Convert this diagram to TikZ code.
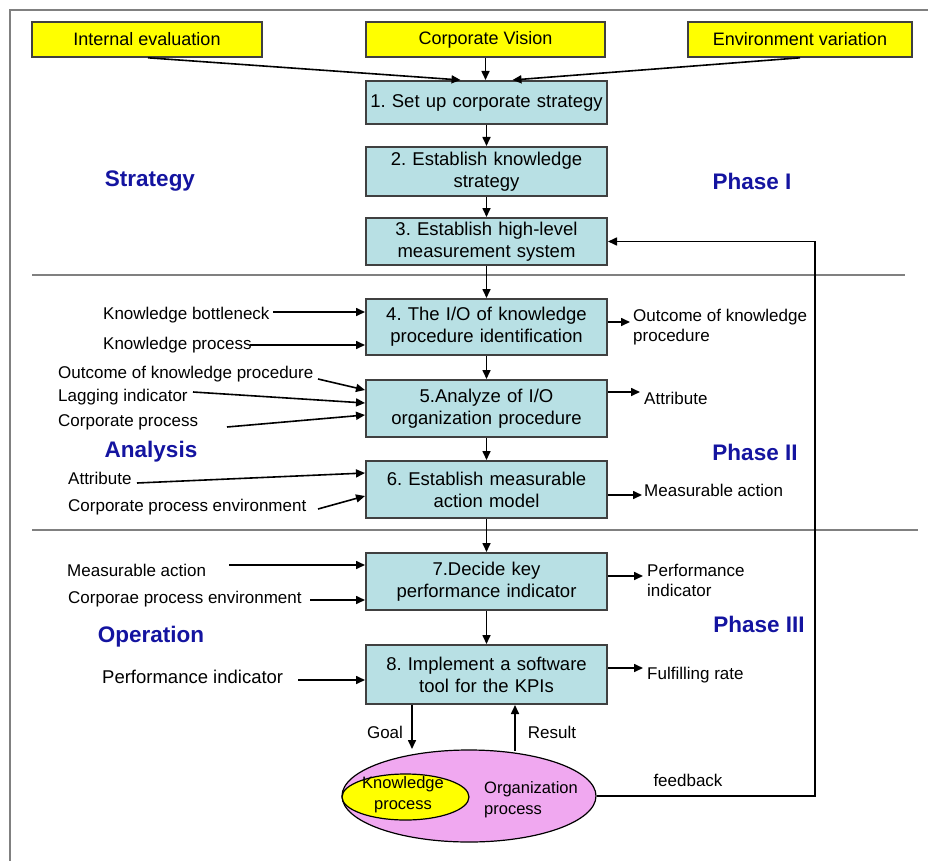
\documentclass[tikz,border=0pt]{standalone}
\usepackage{fontspec}
\setmainfont{Liberation Sans}
\usetikzlibrary{arrows.meta,shapes.geometric}
\definecolor{boxfill}{RGB}{184,224,228}
\definecolor{boxline}{RGB}{64,64,64}
\definecolor{ylw}{RGB}{255,255,0}
\definecolor{pinkfill}{RGB}{240,168,240}
\definecolor{phaseblue}{RGB}{20,20,160}
\definecolor{framegray}{RGB}{128,128,128}
\frenchspacing
\begin{document}
\begin{tikzpicture}[x=1pt,y=-1pt,
  ybox/.style={draw=boxline,line width=1.6pt,fill=ylw,minimum height=35pt,inner sep=0pt,font=\fontsize{18}{21}\selectfont},
  stepbox/.style={draw=boxline,line width=2pt,fill=boxfill,minimum width=241pt,text width=236pt,align=center,inner sep=0pt,font=\fontsize{18.5}{22}\selectfont},
  lbl/.style={inner sep=0pt,font=\fontsize{17}{20}\selectfont},
  phase/.style={inner sep=0pt,text=phaseblue,font=\fontsize{22.5}{26}\selectfont\bfseries},
  arr/.style={line width=1.6pt,-{Triangle[length=9pt,width=8pt]}},
  sep/.style={draw=framegray,line width=1.6pt}
]
\useasboundingbox (0,0) rectangle (928,861);
% frame
\draw[sep] (10,861) -- (10,10) -- (928,10);
\draw[sep] (32,275) -- (905,275);
\draw[sep] (32,530) -- (918,530);
% top inputs
\node[ybox,minimum width=230pt] (ie) at (147,39.5) {Internal evaluation};
\node[ybox,minimum width=239pt] (cv) at (485.5,39.5) {Corporate Vision};
\node[ybox,minimum width=224pt] (ev) at (800,39.5) {Environment variation};
% steps
\node[stepbox,minimum height=43pt] (b1) at (486.5,102.5) {1. Set up corporate strategy};
\node[stepbox,minimum height=49pt] (b2) at (486.5,171.5) {2. Establish knowledge\\strategy};
\node[stepbox,minimum height=47pt] (b3) at (486.5,241.5) {3. Establish high-level\\measurement system};
\node[stepbox,minimum height=56pt] (b4) at (486.5,327) {4. The I/O of knowledge\\procedure identification};
\node[stepbox,minimum height=57pt] (b5) at (486.5,408.5) {5.Analyze of I/O\\organization procedure};
\node[stepbox,minimum height=57pt] (b6) at (486.5,489.5) {6. Establish measurable\\action model};
\node[stepbox,minimum height=57pt] (b7) at (486.5,581.5) {7.Decide key\\performance indicator};
\node[stepbox,minimum height=59pt] (b8) at (486.5,674.5) {8. Implement a software\\tool for the KPIs};
% top arrows
\draw[arr] ([xshift=1pt]ie.south) -- ([xshift=-26pt]b1.north);
\draw[arr] (cv.south) -- (cv.south |- b1.north);
\draw[arr] (ev.south) -- ([xshift=26pt]b1.north);
% vertical chain
\draw[arr] (b1) -- (b2);
\draw[arr] (b2) -- (b3);
\draw[arr] (b3) -- (b4);
\draw[arr] (b4) -- (b5);
\draw[arr] (b5) -- (b6);
\draw[arr] (b6) -- (b7);
\draw[arr] (b7) -- (b8);
% phase labels
\node[phase] (st) at (150,181) {Strategy};
\node[phase] (p1) at (752,181) {Phase I};
\node[phase] (an) at (151,452) {Analysis};
\node[phase] (p2) at (755,452) {Phase II};
\node[phase] (op) at (151,637) {Operation};
\node[phase] (p3) at (759,624) {Phase III};
% left inputs
\node[lbl,anchor=west] (kb) at (103,315) {Knowledge bottleneck};
\node[lbl,anchor=west] (kp) at (103,345) {Knowledge process};
\node[lbl,anchor=west] (okp) at (58,374) {Outcome of knowledge procedure};
\node[lbl,anchor=west] (lag) at (58,397) {Lagging indicator};
\node[lbl,anchor=west] (cp) at (58,422) {Corporate process};
\node[lbl,anchor=west] (att) at (68,478) {Attribute};
\node[lbl,anchor=west] (cpe) at (68,507) {Corporate process environment};
\node[lbl,anchor=west] (ma) at (67,570) {Measurable action};
\node[lbl,anchor=west] (cpe2) at (68,599) {Corporae process environment};
\node[lbl,anchor=west,font=\fontsize{18.5}{22}\selectfont] (pi) at (102,677) {Performance indicator};
\coordinate (kbs) at (273,312);
\coordinate (kps) at (250,345);
\coordinate (okps) at (318,379);
\coordinate (lags) at (193,392);
\coordinate (cps) at (227,427);
\coordinate (atts) at (137,483);
\coordinate (cpes) at (318,509);
\coordinate (mas) at (229,565);
\coordinate (cpe2s) at (310,600);
\coordinate (pis) at (298,680);
\draw[arr] (kbs) -- (kbs -| b4.west);
\draw[arr] (kps) -- (kps -| b4.west);
\draw[arr] (okps) -- ([yshift=18.5pt]b5.west);
\draw[arr] (lags) -- ([yshift=5.5pt]b5.west);
\draw[arr] (cps) -- ([yshift=-6.5pt]b5.west);
\draw[arr] (atts) -- ([yshift=16.5pt]b6.west);
\draw[arr] (cpes) -- ([yshift=-6.5pt]b6.west);
\draw[arr] (mas) -- (mas -| b7.west);
\draw[arr] (cpe2s) -- (cpe2s -| b7.west);
\draw[arr] (pis) -- (pis -| b8.west);
% right outputs
\node[lbl,anchor=west,align=left] (okpo) at (633,327) {Outcome of knowledge\\procedure};
\node[lbl,anchor=west] (atto) at (644,398) {Attribute};
\node[lbl,anchor=west] (mao) at (644,490) {Measurable action};
\node[lbl,anchor=west,align=left] (pio) at (647,580) {Performance\\indicator};
\node[lbl,anchor=west] (fr) at (647,675) {Fulfilling rate};
\coordinate (o4) at (630,322);
\coordinate (o5) at (640,392);
\coordinate (o6) at (642,495);
\coordinate (o7) at (643,576);
\coordinate (o8) at (643,668);
\draw[arr] (o4 -| b4.east) -- (o4);
\draw[arr] (o5 -| b5.east) -- (o5);
\draw[arr] (o6 -| b6.east) -- (o6);
\draw[arr] (o7 -| b7.east) -- (o7);
\draw[arr] (o8 -| b8.east) -- (o8);
% organization ellipse
\node[draw=black,line width=1.2pt,fill=pinkfill,ellipse,minimum width=254pt,minimum height=92pt,inner sep=0pt] (org) at (469,796) {};
\node[draw=black,line width=1.2pt,fill=ylw,ellipse,minimum width=127pt,minimum height=46pt,inner sep=0pt] (kn) at (405.5,797) {};
\node[lbl,align=center,font=\fontsize{16.5}{21}\selectfont] (knt) at (403,795) {Knowledge\\process};
\node[lbl,align=left,font=\fontsize{16.5}{21}\selectfont] (ogt) at (531,800) {Organization\\process};
% goal / result
\coordinate (gl) at (412,749);
\coordinate (rs) at (515,751);
\draw[arr] (gl |- b8.south) -- (gl);
\draw[arr] (rs) -- (rs |- b8.south);
\node[lbl] (goal) at (385,732) {Goal};
\node[lbl] (res) at (552,732) {Result};
% feedback
\coordinate (fb) at (815,796);
\draw[arr] (org.east) -- (fb) -- (fb |- b3.east) -- (b3.east);
\node[lbl] (fbt) at (688,780) {feedback};
\end{tikzpicture}
\end{document}
